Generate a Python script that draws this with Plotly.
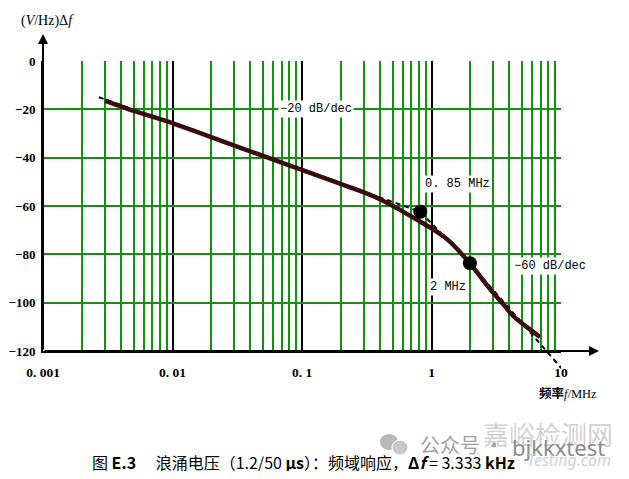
import numpy as np
import plotly.graph_objects as go

# ---------------- data ----------------
curve_f = [0.00301, 0.0045, 0.0101, 0.03, 0.0857, 0.248, 0.40, 0.723, 1.31, 1.98, 2.83, 3.81, 4.29, 6.89]
curve_v = [-16.4, -19.8, -25.8, -35.0, -43.8, -52.7, -57.2, -64.8, -73.6, -83.8, -94.3, -102.4, -105.6, -114.2]

asym_f = [0.0027, 0.82, 1.98, 10.4]
asym_v = [-15.0, -62.4, -83.7, -128.0]

dot_f = [0.82, 1.98]
dot_v = [-62.4, -83.7]

x_tickvals = [0.001, 0.01, 0.1, 1, 10]
x_ticktext = ["0. 001", "0. 01", "0. 1", "1", "10"]
x_minorvals = [k * 10.0 ** d for d in range(-3, 1) for k in range(2, 10)]

y_tickvals = [0, -20, -40, -60, -80, -100, -120]
y_ticktext = ["0", "\u221220", "\u221240", "\u221260", "\u221280", "\u2212100", "\u2212120"]

# ---------------- geometry (page pixels; the page body has an 8px margin) ----------------
OFF = 8
WIN_W, WIN_H = 629, 479
W, H = WIN_W - 2 * OFF, WIN_H - 2 * OFF
PLOT_L, PLOT_R, PLOT_T, PLOT_B = 43, 561, 61, 380   # page pixels of the (extended) plot area
AX_BOTTOM_PX = 351                                  # page pixel row of -120
ML = PLOT_L - OFF
MT = PLOT_T - OFF
MR = W - (PLOT_R - OFF)
MB = H - (PLOT_B - OFF)
PW = PLOT_R - PLOT_L
PH = PLOT_B - PLOT_T


def px(xp):
    return (xp - PLOT_L) / PW


def py(yp):
    return (PLOT_B - yp) / PH


ydom0 = py(AX_BOTTOM_PX)
y2_bottom = -120 - (PLOT_B - AX_BOTTOM_PX) * 120.0 / (AX_BOTTOM_PX - PLOT_T)

GREEN = "#109410"
SERIF = "Liberation Serif"

fig = go.Figure()

# asymptote (dashed)
fig.add_trace(go.Scatter(x=asym_f, y=asym_v, mode="lines", xaxis="x2", yaxis="y2",
                         line=dict(color="black", width=2, dash="5px,4px"),
                         hoverinfo="skip", showlegend=False))
# measured response
fig.add_trace(go.Scatter(x=curve_f, y=curve_v, mode="lines", xaxis="x2", yaxis="y2",
                         line=dict(color="#3a0a0c", width=4.5, shape="spline", smoothing=1.0),
                         hoverinfo="skip", showlegend=False))
# corner points
fig.add_trace(go.Scatter(x=dot_f, y=dot_v, mode="markers", xaxis="x2", yaxis="y2",
                         marker=dict(color="black", size=14),
                         hoverinfo="skip", showlegend=False))

fig.update_layout(
    width=W, height=H,
    margin=dict(l=ML, r=MR, t=MT, b=MB, autoexpand=False),
    paper_bgcolor="white", plot_bgcolor="rgba(0,0,0,0)",
    showlegend=False,
    xaxis=dict(type="log", range=[-3, 1], domain=[0, 1], anchor="y", automargin=False,
               tickmode="array", tickvals=x_tickvals, ticktext=x_ticktext,
               showgrid=True, gridcolor="black", gridwidth=2,
               minor=dict(tickvals=x_minorvals, showgrid=True, gridcolor=GREEN, gridwidth=2, ticks=""),
               showline=True, linecolor="black", linewidth=2,
               ticks="outside", ticklen=8, tickcolor="rgba(0,0,0,0)",
               tickfont=dict(family=SERIF, size=13.5, color="black", weight=700),
               zeroline=False, fixedrange=True),
    yaxis=dict(range=[-120, 0], domain=[ydom0, 1], anchor="x", automargin=False,
               tickmode="array", tickvals=y_tickvals, ticktext=y_ticktext,
               showgrid=True, gridcolor=GREEN, gridwidth=2,
               showline=True, linecolor="black", linewidth=2,
               ticks="outside", ticklen=3, tickcolor="rgba(0,0,0,0)",
               tickfont=dict(family=SERIF, size=13, color="black", weight=700),
               zeroline=False, fixedrange=True),
    xaxis2=dict(type="log", range=[-3, 1], domain=[0, 1], anchor="y2", visible=False,
                automargin=False, fixedrange=True),
    yaxis2=dict(range=[y2_bottom, 0], domain=[0, 1], anchor="x2", visible=False,
                automargin=False, fixedrange=True),
)


def label(xw, yw, text, font, **kw):
    d = dict(xref="paper", yref="paper", x=px(xw), y=py(yw), text=text, showarrow=False,
             xanchor="center", yanchor="middle", font=font)
    d.update(kw)
    return d


ann = []
# axis arrows
ann.append(dict(xref="paper", yref="paper", x=px(599), y=py(AX_BOTTOM_PX), ax=-(599 - PLOT_L), ay=0,
                text="", showarrow=True, arrowhead=2, arrowsize=1, arrowwidth=2, arrowcolor="black"))
ann.append(dict(xref="paper", yref="paper", x=px(PLOT_L), y=py(34), ax=0, ay=(AX_BOTTOM_PX - 34),
                text="", showarrow=True, arrowhead=2, arrowsize=1, arrowwidth=2, arrowcolor="black"))

lab_font = dict(family="Liberation Mono", size=12, color="black")
for f, v, t in [(0.128, -20, "\u221220 dB/dec"), (1.574, -50.9, "0. 85 MHz"),
                (1.34, -93.5, "2 MHz"), (8.2, -84.8, "\u221260 dB/dec")]:
    ann.append(dict(xref="x", yref="y", x=np.log10(f), y=v, text=t, showarrow=False,
                    xanchor="center", yanchor="middle",
                    bgcolor="white", font=lab_font, borderpad=1))

# axis titles
ann.append(label(47, 21, "(<i>V</i>/Hz)\u0394<i>f</i>", dict(family=SERIF, size=14, color="black")))
ann.append(label(568, 393, "<b>频率</b><i>f</i>/MHz",
                 dict(family=SERIF + ", Noto Sans CJK SC", size=12.5, color="black")))

# watermark
ann.append(label(548, 433, "嘉峪检测网",
                 dict(family="Noto Sans CJK SC", size=26, color="rgba(150,150,150,0.45)")))
ann.append(label(450, 444, "公众号", dict(family="Noto Sans CJK SC", size=20, color="#a0a0a0")))
ann.append(label(494, 444, "·", dict(family="Noto Sans CJK SC", size=20, color="#a0a0a0")))
ann.append(label(558, 447, "bjkkxtest", dict(family="Noto Sans", size=22, color="#8c8c8c")))
ann.append(label(569, 460, "<i>Testing.com</i>", dict(family="Noto Sans", size=16, color="#d2d2d2")))

# caption
ann.append(label(303, 462,
                 "图 <b>E.3</b>\u3000 浪涌电压（1.2/50 <b>μs</b>）：频域响应，<b>Δ<i>f</i></b> = 3.333 <b>kHz</b>",
                 dict(family="Noto Sans CJK SC", size=16, color="black")))

fig.update_layout(annotations=ann)

# WeChat-like icon of watermark
fig.add_shape(type="circle", xref="paper", yref="paper", x0=px(380), x1=px(398), y0=py(450), y1=py(434),
              fillcolor="#b8b8b8", line=dict(width=0), layer="above")
fig.add_shape(type="circle", xref="paper", yref="paper", x0=px(392), x1=px(408), y0=py(455), y1=py(440),
              fillcolor="#c8c8c8", line=dict(color="white", width=1), layer="above")

fig.write_html("out.html")
